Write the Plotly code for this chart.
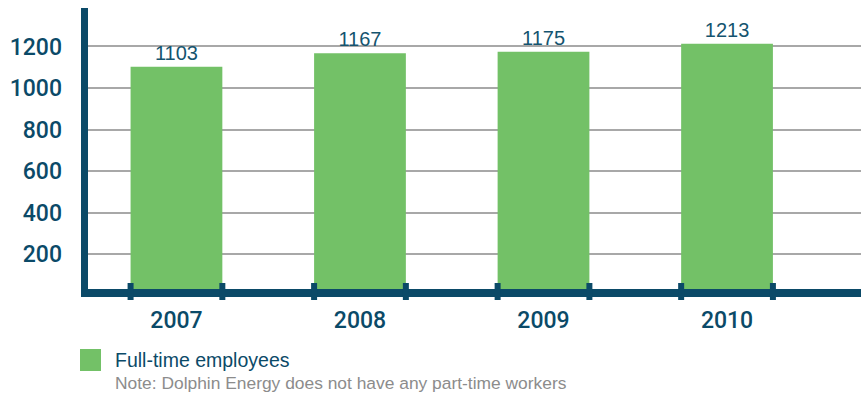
import plotly.graph_objects as go

years = ["2007", "2008", "2009", "2010"]
employees = [1103, 1167, 1175, 1213]
y_ticks = [200, 400, 600, 800, 1000, 1200]

NAVY = "#0b4a68"
GREEN = "#73c167"
GRID = "#a8a8a8"

W, H = 861, 398
L, R, T, B = 88, 0, 8, 102
plot_w = W - L - R
plot_h = H - T - B

idx = list(range(len(years)))
bar_w = 0.5
x_range = [-0.482, 3.730]
px_per_cat = plot_w / (x_range[1] - x_range[0])

fig = go.Figure()
fig.add_trace(go.Bar(
    x=idx, y=employees, width=bar_w,
    marker=dict(color=GREEN, line=dict(width=0)),
    text=[str(v) for v in employees], textposition="outside",
    textfont=dict(family="Liberation Sans, Arial", size=20, color="#14546f"),
    cliponaxis=False, showlegend=False, hoverinfo="skip",
))

shapes = []
# y axis bar
shapes.append(dict(type="rect", xref="paper", yref="paper",
                   x0=-7 / plot_w, x1=0, y0=-1 / plot_h, y1=1,
                   fillcolor=NAVY, line=dict(width=0), layer="above"))
# x axis bar
shapes.append(dict(type="rect", xref="paper", yref="paper",
                   x0=-7 / plot_w, x1=1, y0=-1 / plot_h, y1=7 / plot_h,
                   fillcolor=NAVY, line=dict(width=0), layer="above"))
# tick marks at the edges of each bar
half_tick = 3 / px_per_cat
for i in idx:
    for edge in (i - bar_w / 2, i + bar_w / 2):
        shapes.append(dict(type="rect", xref="x", yref="paper",
                           x0=edge - half_tick, x1=edge + half_tick,
                           y0=-4 / plot_h, y1=13 / plot_h,
                           fillcolor=NAVY, line=dict(width=0), layer="above"))
# legend swatch
shapes.append(dict(type="rect", xref="paper", yref="paper",
                   x0=(80 - L) / plot_w, x1=(101 - L) / plot_w,
                   y0=(H - B - 371) / plot_h, y1=(H - B - 349) / plot_h,
                   fillcolor=GREEN, line=dict(width=0)))

annotations = [
    dict(text="Full-time employees", xref="paper", yref="paper",
         x=(113 - L) / plot_w, y=(H - B - 360) / plot_h,
         xanchor="left", yanchor="middle", showarrow=False,
         font=dict(family="Liberation Sans, Arial", size=19.5, color=NAVY)),
    dict(text="Note: Dolphin Energy does not have any part-time workers",
         xref="paper", yref="paper",
         x=(113 - L) / plot_w, y=(H - B - 383) / plot_h,
         xanchor="left", yanchor="middle", showarrow=False,
         font=dict(family="Liberation Sans, Arial", size=17.4, color="#8c8c8c")),
]

tick_font = dict(family="Roboto, Liberation Sans, Arial", size=23, color=NAVY,
                 weight=500)

fig.update_layout(
    width=W, height=H,
    margin=dict(l=L, r=R, t=T, b=B, pad=0),
    paper_bgcolor="white", plot_bgcolor="white",
    shapes=shapes, annotations=annotations,
    xaxis=dict(range=x_range, tickvals=idx, ticktext=years,
               showgrid=False, zeroline=False, showline=False, ticks="",
               ticklabelstandoff=8, tickfont=tick_font),
    yaxis=dict(range=[0, 1385], tickvals=y_ticks,
               showgrid=True, gridcolor=GRID, gridwidth=1.5,
               zeroline=False, showline=False, ticks="",
               ticklabelstandoff=25, tickfont=tick_font),
)

fig.write_html("out.html")
